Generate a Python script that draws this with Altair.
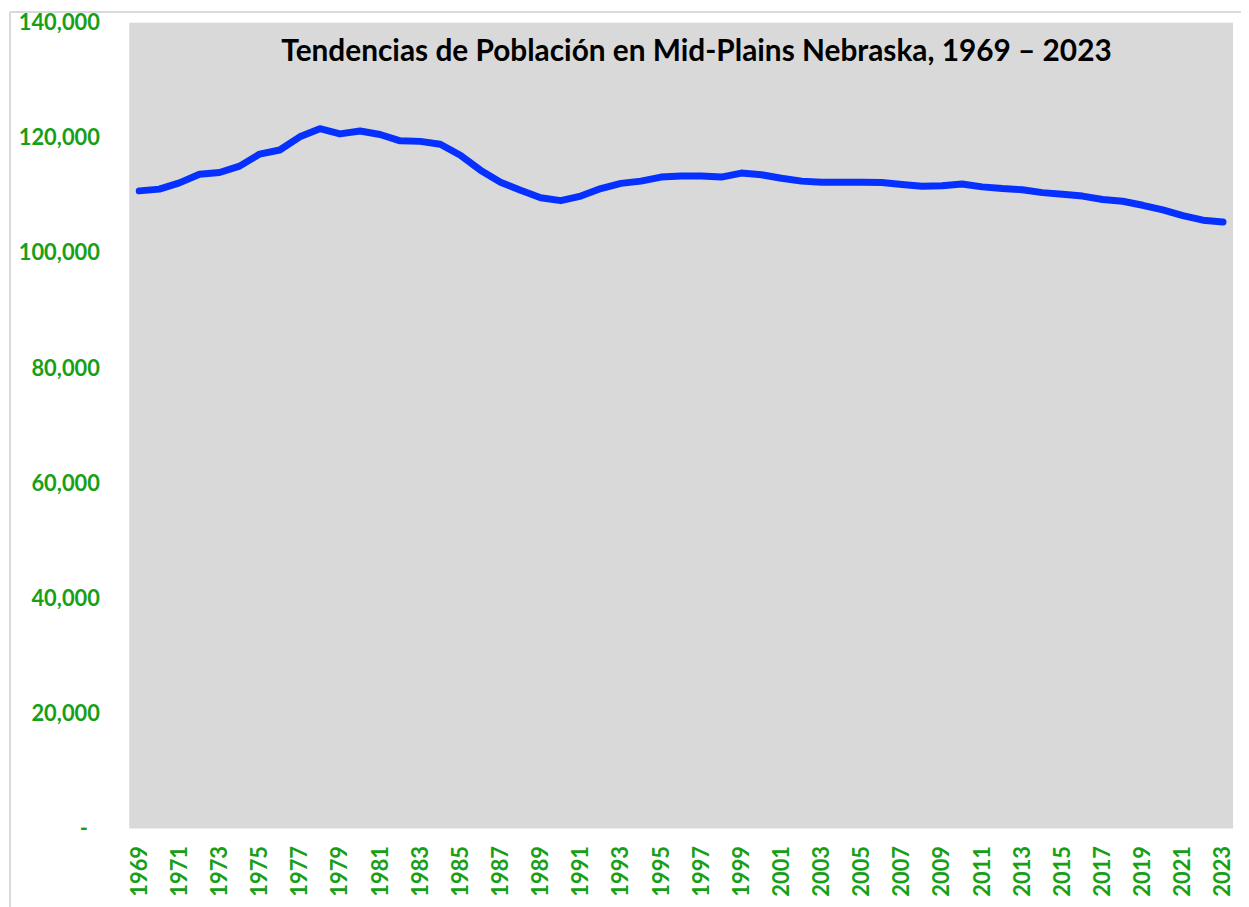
import altair as alt
import pandas as pd

years = list(range(1969, 2024))
population = [
    110800, 111100, 112200, 113700, 114000, 115100, 117200, 117900, 120200, 121600,
    120700, 121200, 120600, 119500, 119400, 118900, 117000, 114400, 112300, 110900,
    109600, 109100, 109900, 111200, 112100, 112500, 113200, 113400, 113400, 113200,
    113900, 113600, 113000, 112500, 112300, 112300, 112300, 112250, 111900, 111600,
    111700, 112000, 111500, 111200, 111000, 110500, 110200, 109900, 109300, 109000,
    108300, 107500, 106500, 105700, 105400,
]
label_years = [str(y) for y in years[::2]]
y_ticks = [0, 20000, 40000, 60000, 80000, 100000, 120000, 140000]
title_text = "Tendencias de Población en Mid-Plains Nebraska, 1969 – 2023"

df = pd.DataFrame({"Año": [str(y) for y in years], "Población": population})

W, H = 1111, 811
GREEN = "#17a017"

line = alt.Chart(df).mark_line(color="#0530ff", strokeWidth=7, strokeCap="round", strokeJoin="round").encode(
    x=alt.X("Año:O", scale=alt.Scale(type="point", padding=0.5),
            axis=alt.Axis(values=label_years, labelAngle=-90, labelColor=GREEN, labelFont="Lato",
                          labelFontWeight="bold", labelFontSize=22, labelPadding=17,
                          ticks=False, domain=False, grid=False, title=None)),
    y=alt.Y("Población:Q", scale=alt.Scale(domain=[0, 140000], nice=False),
            axis=alt.Axis(values=y_ticks, labelExpr="datum.value == 0 ? '-' : format(datum.value, ',')",
                          labelColor=GREEN, labelFont="Lato", labelFontWeight="bold", labelFontSize=22,
                          labelPadding={"condition": {"test": "datum.value == 0", "value": 42}, "value": 30},
                          ticks=False, domain=False, grid=False, title=None)),
)

title = alt.Chart(pd.DataFrame({"t": [title_text]})).mark_text(
    font="Lato", fontWeight="bold", fontSize=30, color="black", align="center", baseline="alphabetic"
).encode(text="t:N", x=alt.value(571), y=alt.value(38))

border_v = alt.Chart(pd.DataFrame({"k": [0]})).mark_rule(color="#d9d9d9", strokeWidth=2).encode(
    x=alt.value(-120), y=alt.value(-11), y2=alt.value(900))
border_h = alt.Chart(pd.DataFrame({"k": [0]})).mark_rule(color="#d9d9d9", strokeWidth=2).encode(
    x=alt.value(-120), x2=alt.value(1130), y=alt.value(-11))

chart = alt.layer(line, title, border_v, border_h).properties(
    width=W, height=H,
    padding={"left": 122, "top": 12, "right": 8, "bottom": 76},
    autosize=alt.AutoSizeParams(type="none"),
    background="white",
).configure_view(fill="#d9d9d9", stroke=None)

chart.save("out.html", embed_options={"renderer": "svg", "actions": False})
